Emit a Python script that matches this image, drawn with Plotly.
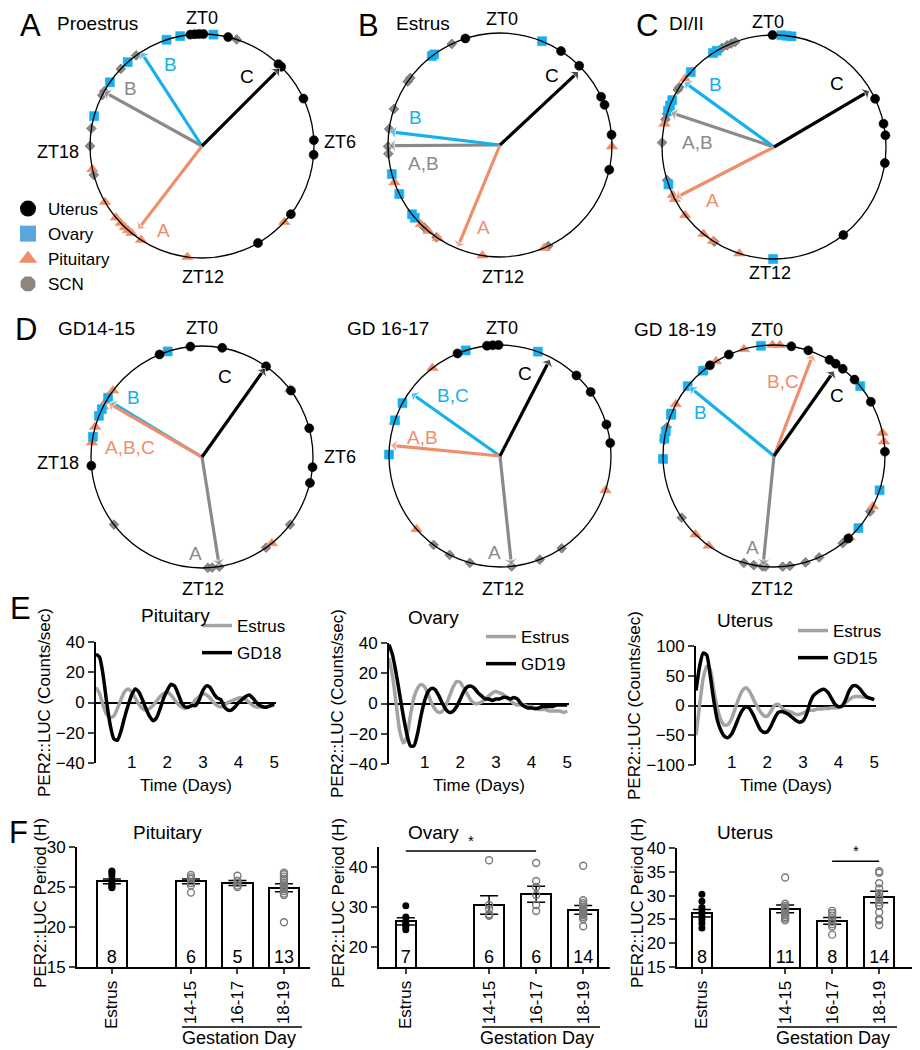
import plotly.graph_objects as go

# page geometry: the browser body has an 8 px margin, so the figure is drawn 8 px in
W, H = 920, 1050
OFF = 8
FW, FH = W - OFF, H - OFF
FONT = "Arial, Liberation Sans, Helvetica, sans-serif"

# ---------------- Circular phase plots: peak phase (ZT, hours) ----------------
TISSUES = ["Uterus", "Ovary", "Pituitary", "SCN"]

proestrus_uterus = [23.6, 23.75, 23.9, 0.05, 0.9, 2.87, 3.0, 4.33, 5.8, 6.3, 8.5, 10.0]
proestrus_ovary = [22.77, 23.25, 0.39, 21.23, 20.31, 19.03]
proestrus_pituitary = [17.2, 16.0, 15.35, 15.1, 14.9, 14.75, 14.6, 14.2, 12.5, 8.85]
proestrus_scn = [21.6, 20.9, 19.95, 19.8, 18.6, 18.0, 17.0, 1.2]
proestrus_mean_phase = [3.0, 21.8, 14.5, 19.93]
proestrus_mean_len = [0.98, 1.0, 0.94, 1.0]

estrus_uterus = [22.8, 2.2, 3.0, 4.3, 4.6, 5.65, 6.85]
estrus_ovary = [1.47, 21.5, 21.6, 17.0, 16.27, 15.45, 15.3]
estrus_pituitary = [16.7, 15.0, 14.65, 14.25, 12.6, 10.45, 6.05]
estrus_scn = [22.3, 20.3, 20.45, 19.25, 18.55, 17.95, 17.7, 14.85, 14.3, 10.3]
estrus_mean_phase = [3.13, 18.46, 13.5, 17.98]
estrus_mean_len = [0.96, 0.99, 0.99, 0.99]

diestrus_uterus = [23.95, 4.3, 5.2, 5.6, 6.55, 9.45]
diestrus_ovary = [0.25, 0.43, 0.6, 21.8, 21.95, 20.8, 19.65, 19.45, 19.25, 16.7, 12.03]
diestrus_pituitary = [20.5, 18.8, 16.3, 16.15, 15.5, 14.6, 14.2, 13.2]
diestrus_scn = [22.15, 22.35, 22.5, 22.65, 20.05, 20.15, 19.15, 18.95, 18.15, 16.85, 14.15]
diestrus_mean_phase = [3.97, 20.39, 16.18, 19.23]
diestrus_mean_len = [0.99, 0.99, 0.99, 0.97]

gd1415_uterus = [22.5, 23.6, 0.7, 2.35, 3.55, 5.0, 6.35, 6.9, 17.7]
gd1415_ovary = [22.8, 20.15, 19.7, 19.45, 18.7]
gd1415_pituitary = [20.45, 20.0, 19.8, 19.05, 18.5, 3.5, 9.4]
gd1415_scn = [15.5, 11.8, 11.65, 11.4, 9.65, 8.5]
gd1415_mean_phase = [2.36, 20.08, 20.0, 11.4]
gd1415_mean_len = [0.98, 0.96, 0.97, 0.99]

gd1617_uterus = [22.5, 23.55, 23.75, 23.95, 2.9, 3.65, 4.9, 5.55]
gd1617_ovary = [22.8, 1.33, 19.9, 19.25, 18.05]
gd1617_pituitary = [21.5, 19.2, 15.25, 7.2]
gd1617_scn = [14.45, 13.8, 13.05, 11.6, 10.6, 9.75]
gd1617_mean_phase = [1.82, 20.35, 18.37, 11.6]
gd1617_mean_len = [0.98, 0.98, 0.99, 0.99]

gd1819_uterus = [22.4, 21.65, 0.6, 1.2, 2.0, 2.25, 2.55, 3.1, 4.05, 5.85, 9.2]
gd1819_ovary = [23.55, 21.35, 20.6, 19.5, 19.45, 18.85, 18.6, 17.9, 3.4, 7.2, 8.7]
gd1819_pituitary = [22.95, 23.95, 0.2, 21.9, 21.35, 19.85, 5.2, 5.5, 7.8, 9.15, 15.0, 14.4]
gd1819_scn = [19.0, 18.55, 15.75, 13.05, 12.7, 12.4, 12.3, 11.7, 11.45, 10.9, 10.4, 9.45, 8.0]
gd1819_mean_phase = [2.35, 20.62, 1.4, 12.38]
gd1819_mean_len = [0.94, 0.98, 0.98, 0.99]

# ---------------- PER2::LUC traces (detrended) ----------------
days = [0.0, 0.1, 0.2, 0.3, 0.4, 0.5, 0.6, 0.7, 0.8, 0.9, 1.0, 1.1, 1.2, 1.3, 1.4, 1.5, 1.6,
        1.7, 1.8, 1.9, 2.0, 2.1, 2.2, 2.3, 2.4, 2.5, 2.6, 2.7, 2.8, 2.9, 3.0, 3.1, 3.2, 3.3,
        3.4, 3.5, 3.6, 3.7, 3.8, 3.9, 4.0, 4.1, 4.2, 4.3, 4.4, 4.5, 4.6, 4.7, 4.8, 4.9, 5.0]

pit_estrus = [10, 6, -2, -8, -10, -9, -4, 2, 7, 9, 7, 3, -1, -4, -5, -4, -2, 1, 4, 6, 7, 5, 2,
              -1, -3, -4, -3, -1, 2, 4, 6, 5, 3, 0, -2, -3, -2, 0, 1, 2, 3, 3, 2, 0, -2, -3, -3,
              -3, -3, -2, -2]
pit_gd18 = [32, 30, 18, 0, -15, -24, -25, -19, -10, -2, 5, 9, 7, 2, -4, -9, -12, -10, -4, 3, 8,
            12, 11, 6, 0, -3, -3, -2, -2, 2, 8, 11, 10, 6, 3, 2, -3, -5, -5, -3, 0, 2, 4, 5, 3,
            0, -2, -3, -3, -2, -1]
ov_estrus = [30, 18, 0, -18, -26, -22, -8, 4, 10, 12.5, 11, 6, 0, -4, -6, -5, -1, 5, 11, 14.5,
             14, 10, 6, 2, 0, 0, 1, 3, 5, 7, 8, 7, 6, 4, 2, 0, -1, -1, -1, -2, -2, -3, -4, -4,
             -4, -5, -5, -5, -5, -6, -5]
ov_gd19 = [39, 32, 20, 6, -8, -20, -28, -28, -20, -8, 2, 8, 10, 9, 5, 0, -4, -6, -5, -2, 3, 8,
           11, 11.5, 10, 7, 5, 3, 3, 2, 3, 3, 4, 4, 3, 4, 3, 0, -2, -3, -3, -3.5, -3, -2, -2,
           -2, -2, -1, -1, -1, -1]
ut_estrus = [-50, 0, 45, 66, 60, 25, -5, -25, -33, -32, -22, -5, 12, 25, 30, 24, 12, 0, -10,
             -17, -18, -10, 0, 2, -3, -8, -10, -12, -15, -15, -13, -10, -8, -8, -6, -6, -5, -5,
             -4, -4, -3, 0, 5, 10, 14, 15, 15, 14, 14, 12, 10]
ut_gd15 = [25, 65, 88, 85, 50, 8, -25, -42, -52, -54, -48, -35, -20, -8, -2, -5, -15, -28, -40,
           -45, -44, -35, -22, -12, -10, -12, -15, -20, -25, -28, -26, -15, 5, 17, 22, 26, 27,
           22, 12, 2, -2, -1, 10, 25, 33, 33, 28, 20, 14, 12, 10]

# ---------------- PER2::LUC period bar charts ----------------
groups = ["Estrus", "14-15", "16-17", "18-19"]

fpit_mean = [25.7, 25.7, 25.5, 24.9]
fpit_sem = [0.3, 0.3, 0.3, 0.5]
fpit_n = [8, 6, 5, 13]
fpit_pts = [[27.0, 26.8, 26.5, 26.0, 25.5, 25.2, 25.0, 24.9],
            [26.5, 26.2, 26.0, 25.5, 25.2, 24.3],
            [26.4, 25.8, 25.5, 25.2, 25.0],
            [26.8, 26.6, 26.3, 26.0, 25.8, 25.5, 25.2, 25.0, 24.8, 24.5, 24.2, 24.0, 20.6]]

fov_mean = [26.4, 30.5, 33.2, 29.3]
fov_sem = [0.9, 2.3, 2.0, 1.1]
fov_n = [7, 6, 6, 14]
fov_pts = [[30.3, 27.5, 26.5, 26.0, 25.5, 25.0, 24.3],
           [41.7, 30.5, 29.5, 28.2, 28.0, 27.8],
           [41.0, 36.5, 35.0, 33.0, 30.5, 29.0],
           [40.3, 31.7, 31.0, 30.5, 30.0, 29.5, 29.0, 28.7, 28.5, 28.2, 28.0, 27.5, 27.0, 25.2]]

fut_mean = [26.3, 27.2, 24.7, 29.7]
fut_sem = [0.8, 0.8, 0.7, 1.2]
fut_n = [8, 11, 8, 14]
fut_pts = [[30.3, 28.8, 27.5, 26.5, 25.8, 25.0, 24.2, 23.2],
           [33.8, 28.3, 27.8, 27.5, 27.2, 26.8, 26.3, 25.9, 25.5, 25.2, 24.8],
           [26.8, 26.3, 25.8, 25.0, 24.5, 24.0, 23.5, 21.8],
           [35.1, 34.8, 32.6, 31.5, 30.5, 29.8, 29.5, 28.6, 28.0, 27.8, 26.5, 25.1, 24.8, 23.8]]

# ---------------- styling ----------------
COL = {"Uterus": "#000000", "Ovary": "#17B0EC", "Pituitary": "#EF8E6B", "SCN": "#8A8A8A"}
LEG_COL = {"Uterus": "#000000", "Ovary": "#5AA8D9", "Pituitary": "#EF8E6B", "SCN": "#8E867E"}
SYM = {"Uterus": "circle", "Ovary": "square", "Pituitary": "triangle-up", "SCN": "diamond"}
LEG_SYM = {"Uterus": "circle", "Ovary": "square", "Pituitary": "triangle-up", "SCN": "octagon"}
MSIZE = {"Uterus": 9, "Ovary": 9, "Pituitary": 10, "SCN": 7.5}


def fx(x):
    return (x - OFF) / FW


def fy(y):
    return 1 - (y - OFF) / FH


def px(x, y):
    return fx(x), fy(y)


def ann(text, x, y, size, color="black", xanchor="center", yanchor="middle", angle=0):
    ax, ay = px(x, y)
    return dict(text=text, x=ax, y=ay, xref="paper", yref="paper", showarrow=False,
                xanchor=xanchor, yanchor=yanchor, textangle=angle,
                font=dict(size=size, color=color, family=FONT))


fig = go.Figure()
annotations = []
shapes = []
layout = dict(template="none", width=FW, height=FH, margin=dict(l=0, r=0, t=0, b=0, pad=0),
              autosize=False, paper_bgcolor="white", plot_bgcolor="rgba(0,0,0,0)",
              font=dict(family=FONT, color="black"), showlegend=True)

panels = [
    ([proestrus_uterus, proestrus_ovary, proestrus_pituitary, proestrus_scn], proestrus_mean_phase, proestrus_mean_len),
    ([estrus_uterus, estrus_ovary, estrus_pituitary, estrus_scn], estrus_mean_phase, estrus_mean_len),
    ([diestrus_uterus, diestrus_ovary, diestrus_pituitary, diestrus_scn], diestrus_mean_phase, diestrus_mean_len),
    ([gd1415_uterus, gd1415_ovary, gd1415_pituitary, gd1415_scn], gd1415_mean_phase, gd1415_mean_len),
    ([gd1617_uterus, gd1617_ovary, gd1617_pituitary, gd1617_scn], gd1617_mean_phase, gd1617_mean_len),
    ([gd1819_uterus, gd1819_ovary, gd1819_pituitary, gd1819_scn], gd1819_mean_phase, gd1819_mean_len),
]
POLAR_GEOM = [(202, 146, 112), (500, 145, 112), (774, 147, 112),
              (202, 457, 111), (500, 456, 111), (774, 456, 111)]
ARROW_ORDER = [3, 1, 2, 0]  # SCN, Ovary, Pituitary, Uterus (uterus on top)

for i, ((pts, mph, mlen), (cx, cy, R)) in enumerate(zip(panels, POLAR_GEOM)):
    pid = "polar" if i == 0 else f"polar{i + 1}"
    layout[pid] = dict(
        domain=dict(x=[fx(cx - R), fx(cx + R)], y=[fy(cy + R), fy(cy - R)]),
        bgcolor="rgba(0,0,0,0)",
        radialaxis=dict(visible=False, range=[0, 1]),
        angularaxis=dict(rotation=90, direction="clockwise", showline=True, linecolor="black",
                         linewidth=1.3, showgrid=False, ticks="", showticklabels=False))
    for k in [3, 2, 1, 0]:
        t = TISSUES[k]
        fig.add_trace(go.Scatterpolar(
            r=[1] * len(pts[k]), theta=[z * 15 for z in pts[k]], mode="markers",
            marker=dict(symbol=SYM[t], size=MSIZE[t], color=COL[t],
                        line=dict(width=0.6, color="#555555" if t == "SCN" else COL[t])),
            subplot=pid, showlegend=False, cliponaxis=False, name=t))
    for k in ARROW_ORDER:
        t = TISSUES[k]
        th = mph[k] * 15
        fig.add_trace(go.Scatterpolar(
            r=[0, mlen[k]], theta=[th, th], mode="lines+markers",
            line=dict(color=COL[t], width=3.2),
            marker=dict(symbol="arrow-wide", size=[0, 13], angleref="previous", color=COL[t]),
            subplot=pid, showlegend=False, cliponaxis=False, name=t + " mean"))

# tissue legend (panel A)
for t in TISSUES:
    fig.add_trace(go.Scatterpolar(r=[None], theta=[None], mode="markers", name=t,
                                  marker=dict(symbol=LEG_SYM[t], size=16, color=LEG_COL[t]),
                                  subplot="polar", legend="legend", showlegend=True))
layout["legend"] = dict(x=0, y=fy(191), xanchor="left", yanchor="top", bgcolor="rgba(0,0,0,0)",
                        font=dict(size=17, family=FONT), itemsizing="trace", tracegroupgap=0)

# arrow labels
ARROW_LABELS = [
    ("C", "Uterus", 247, 77), ("B", "Ovary", 170, 65), ("B", "SCN", 130, 88), ("A", "Pituitary", 163, 230),
    ("C", "Uterus", 552, 75), ("B", "Ovary", 415, 117), ("A,B", "SCN", 423, 163), ("A", "Pituitary", 483, 228),
    ("C", "Uterus", 837, 83), ("B", "Ovary", 715, 85), ("A,B", "SCN", 697, 143), ("A", "Pituitary", 712, 200),
    ("C", "Uterus", 225, 376), ("B", "Ovary", 133, 398), ("A,B,C", "Pituitary", 130, 447), ("A", "SCN", 195, 553),
    ("C", "Uterus", 525, 373), ("B,C", "Ovary", 453, 395), ("A,B", "Pituitary", 422, 437), ("A", "SCN", 495, 552),
    ("B,C", "Pituitary", 783, 382), ("C", "Uterus", 837, 395), ("B", "Ovary", 700, 412), ("A", "SCN", 752, 547),
]
for txt, t, x, y in ARROW_LABELS:
    annotations.append(ann(txt, x, y, 19, COL[t]))

ZT_LABELS = [("ZT0", 202, 18), ("ZT6", 340, 142), ("ZT12", 203, 277), ("ZT18", 58, 152),
             ("ZT0", 502, 19), ("ZT12", 503, 277),
             ("ZT0", 768, 22), ("ZT12", 770, 273),
             ("ZT0", 202, 328), ("ZT6", 340, 457), ("ZT12", 203, 589), ("ZT18", 58, 463),
             ("ZT0", 502, 328), ("ZT12", 503, 589),
             ("ZT0", 767, 330), ("ZT12", 772, 589)]
for txt, x, y in ZT_LABELS:
    annotations.append(ann(txt, x, y, 18))

PANEL_TEXT = [("A", 30, 25, 31), ("Proestrus", 97, 24, 19), ("B", 368, 25, 31), ("Estrus", 423, 24, 19),
              ("C", 647, 25, 31), ("DI/II", 686, 24, 19), ("D", 26, 329, 31), ("GD14-15", 96, 328, 19),
              ("GD 16-17", 388, 328, 19), ("GD 18-19", 675, 329, 19), ("E", 20, 608, 31),
              ("F", 18, 832, 31)]
for txt, x, y, s in PANEL_TEXT:
    annotations.append(ann(txt, x, y, s))

# ---------------- E: traces ----------------
E_SPECS = [
    ("Pituitary", pit_estrus, pit_gd18, "GD18", (96, 276), (642, 763), [-40, 40], [-40, -20, 0, 20, 40],
     (175, 615), (197, 608)),
    ("Ovary", ov_estrus, ov_gd19, "GD19", (389, 569), (643, 764), [-40, 40], [-40, -20, 0, 20, 40],
     (433, 617), (481, 619)),
    ("Uterus", ut_estrus, ut_gd15, "GD15", (696, 876), (646, 765), [-100, 100], [-100, -50, 0, 50, 100],
     (745, 620), (793, 613)),
]
for j, (title, est, gd, gdname, xd, yd, yr, yt, tpos, lpos) in enumerate(E_SPECS):
    n = j + 1
    xa = "xaxis" if n == 1 else f"xaxis{n}"
    ya = "yaxis" if n == 1 else f"yaxis{n}"
    xr = "x" if n == 1 else f"x{n}"
    yrf = "y" if n == 1 else f"y{n}"
    leg = f"legend{n + 1}"
    fig.add_trace(go.Scatter(x=days, y=est, mode="lines", name="Estrus",
                             line=dict(color="#A3A3A3", width=3.5, shape="spline", smoothing=0.6),
                             xaxis=xr, yaxis=yrf, legend=leg, legendgroup=f"e{n}a"))
    fig.add_trace(go.Scatter(x=days, y=gd, mode="lines", name=gdname,
                             line=dict(color="black", width=3.5, shape="spline", smoothing=0.6),
                             xaxis=xr, yaxis=yrf, legend=leg, legendgroup=f"e{n}b"))
    layout[xa] = dict(domain=[fx(xd[0]), fx(xd[1])], range=[0, 5.05], anchor="free", position=fy(750),
                      showline=False, showgrid=False, zeroline=False, ticks="", tickvals=[1, 2, 3, 4, 5],
                      automargin=False, tickfont=dict(size=17),
                      title=dict(text="Time (Days)", font=dict(size=17), standoff=8))
    layout[ya] = dict(domain=[fy(yd[1]), fy(yd[0])], range=yr, anchor=xr, showline=True, linecolor="black",
                      linewidth=2, ticks="outside", ticklen=6, tickwidth=2, tickvals=yt, showgrid=False,
                      zeroline=True, zerolinecolor="black", zerolinewidth=2, tickfont=dict(size=17),
                      automargin=False, title=dict(text="PER2::LUC (Counts/sec)", font=dict(size=17)))
    lx, ly = px(*lpos)
    layout[leg] = dict(x=lx, y=ly, xanchor="left", yanchor="top", bgcolor="rgba(0,0,0,0)",
                       font=dict(size=17, family=FONT), tracegroupgap=2, itemwidth=30)
    annotations.append(ann(title, tpos[0], tpos[1], 19))

# ---------------- F: bar charts ----------------
F_SPECS = [
    ("Pituitary", fpit_mean, fpit_sem, fpit_n, fpit_pts, [0, 1.7, 2.7, 3.7], [0.65, 0.65, 0.65, 0.65],
     (77, 310), [-0.75, 4.26], (847, 967), [15, 30], [15, 20, 25, 30], (167, 832), (182, 302), 239, None, 40),
    ("Ovary", fov_mean, fov_sem, fov_n, fov_pts, [0, 1.77, 2.77, 3.77], [0.43, 0.64, 0.64, 0.64],
     (379, 610), [-0.57, 4.34], (847, 967), [15, 45], [20, 30, 40], (433, 832), (482, 600), 537, (0, 2, 44.0), 338),
    ("Uterus", fut_mean, fut_sem, fut_n, fut_pts, [0, 1.77, 2.77, 3.77], [0.43, 0.64, 0.64, 0.64],
     (677, 913), [-0.53, 4.49], (848, 967), [15, 40], [15, 20, 25, 30, 35, 40], (745, 832), (777, 897), 833, (2, 3, 37.2), 637),
]
for j, (title, mean, sem, nn, pts, pos, wid, xd, xrng, yd, yrng, yt, tpos, gline, gtx, sig, ytx) in enumerate(F_SPECS):
    n = j + 4
    xa, ya, xr, yrf = f"xaxis{n}", f"yaxis{n}", f"x{n}", f"y{n}"
    fig.add_trace(go.Bar(x=pos, y=mean, width=wid,
                         marker=dict(color="white", line=dict(color="black", width=2)),
                         error_y=dict(type="data", array=sem, color="black", thickness=1.5, width=9),
                         xaxis=xr, yaxis=yrf, showlegend=False))
    for g, vals in enumerate(pts):
        if g == 0:
            mk = dict(symbol="circle", size=7, color="black")
        else:
            mk = dict(symbol="circle-open", size=7, color="#7A7A7A", line=dict(width=1.4))
        fig.add_trace(go.Scatter(x=[pos[g]] * len(vals), y=vals, mode="markers", marker=mk,
                                 xaxis=xr, yaxis=yrf, showlegend=False, cliponaxis=False))
    fig.add_trace(go.Scatter(x=pos, y=[yrng[0]] * 4, mode="text", text=[str(v) for v in nn],
                             textposition="top center", textfont=dict(size=18, color="black"),
                             xaxis=xr, yaxis=yrf, showlegend=False, cliponaxis=False))
    layout[xa] = dict(domain=[fx(xd[0]), fx(xd[1])], range=xrng, anchor=yrf, showline=True, linecolor="black",
                      linewidth=2, ticks="outside", ticklen=5, tickwidth=1.5, tickvals=pos, ticktext=groups,
                      tickangle=-90, tickfont=dict(size=17), showgrid=False, zeroline=False, automargin=False)
    layout[ya] = dict(domain=[fy(yd[1]), fy(yd[0])], range=yrng, anchor=xr, showline=True,
                      linecolor="black", linewidth=2, ticks="outside", ticklen=6, tickwidth=2, tickvals=yt,
                      showgrid=False, zeroline=False, tickfont=dict(size=17), automargin=False)
    annotations.append(ann("PER2::LUC Period (H)", ytx, 903, 17, angle=-90))
    annotations.append(ann(title, tpos[0], tpos[1], 19))
    x0, y0 = px(gline[0], 1027)
    x1, _ = px(gline[1], 1027)
    shapes.append(dict(type="line", xref="paper", yref="paper", x0=x0, x1=x1, y0=y0, y1=y0,
                       line=dict(color="black", width=1.5)))
    annotations.append(ann("Gestation Day", gtx, 1038, 18))
    if sig is not None:
        a, b, yv = sig
        shapes.append(dict(type="line", xref=xr, yref=yrf, x0=pos[a], x1=pos[b], y0=yv, y1=yv,
                           line=dict(color="black", width=1.5)))
        annotations.append(dict(text="*", x=(pos[a] + pos[b]) / 2, y=yv, xref=xr, yref=yrf, showarrow=False,
                                yanchor="bottom", font=dict(size=15, family=FONT, color="black")))

layout["annotations"] = annotations
layout["shapes"] = shapes
layout["bargap"] = 0
fig.update_layout(**layout)
fig.write_html("out.html")
